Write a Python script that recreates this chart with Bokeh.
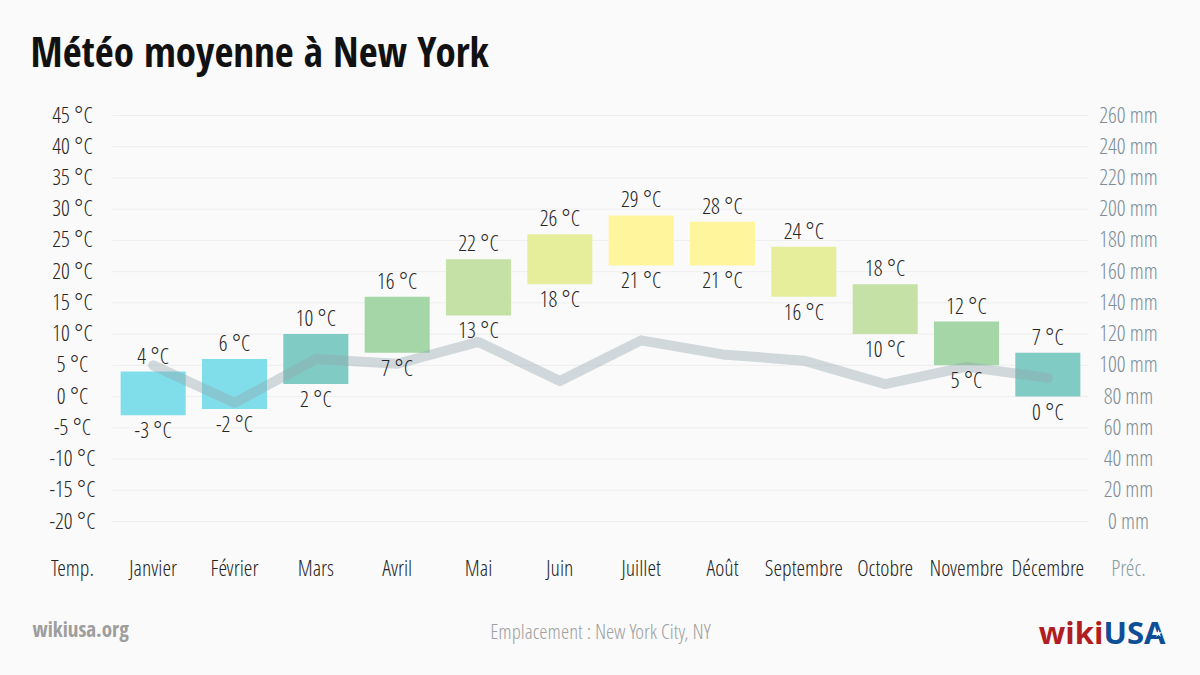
from bokeh.plotting import figure
from bokeh.models import Range1d
from bokeh.core.properties import value
from bokeh.embed import file_html
from bokeh.resources import INLINE

# ---------------- data ----------------
months = ["Janvier", "Février", "Mars", "Avril", "Mai", "Juin",
          "Juillet", "Août", "Septembre", "Octobre", "Novembre", "Décembre"]
temp_max = [4, 6, 10, 16, 22, 26, 29, 28, 24, 18, 12, 7]
temp_min = [-3, -2, 2, 7, 13, 18, 21, 21, 16, 10, 5, 0]
precip = [100, 76, 104, 101, 115, 90, 116, 107, 103, 88, 99, 92]
bar_colors = ["#80DEEA", "#80DEEA", "#80CBC4", "#A5D6A7", "#C5E1A5", "#E6EE9C",
              "#FFF59D", "#FFF59D", "#E6EE9C", "#C5E1A5", "#A5D6A7", "#80CBC4"]
temp_ticks = [-20, -15, -10, -5, 0, 5, 10, 15, 20, 25, 30, 35, 40, 45]
precip_ticks = [0, 20, 40, 60, 80, 100, 120, 140, 160, 180, 200, 220, 240, 260]
title = "Météo moyenne à New York"
left_caption = "Temp."
right_caption = "Préc."
footer_left = "wikiusa.org"
footer_center = "Emplacement : New York City, NY"

# ---------------- layout (reference pixel coordinates) ----------------
W, H = 1184, 659
OFF = 0
FL, FR = 112, 1088          # plot band left/right
FT, FB = 115, 521           # y of top / bottom tick
T_BOT, T_TOP = temp_ticks[0], temp_ticks[-1]
P_BOT, P_TOP = precip_ticks[0], precip_ticks[-1]
TXT_DY = -2                 # small vertical correction for text centring

n = len(months)
band = (FR - FL) / n
ppd = (FB - FT) / (T_TOP - T_BOT)


def X(px):
    return (px - FL) / band - 0.5


def Y(py):
    return T_BOT + (FB - py) / ppd


def to_p(t):
    return P_BOT + (t - T_BOT) * (P_TOP - P_BOT) / (T_TOP - T_BOT)


y0, y1 = Y(OFF + H), Y(OFF)
p = figure(width=W, height=H,
           x_range=Range1d(X(OFF), X(OFF + W)), y_range=Range1d(y0, y1),
           x_axis_type=None, y_axis_type=None, toolbar_location=None,
           output_backend="svg", min_border=0,
           background_fill_color="#fafafa", border_fill_color="#fafafa",
           outline_line_color=None)
p.extra_y_ranges = {"precip": Range1d(to_p(y0), to_p(y1))}

LIGHT = value("Open Sans Condensed Light")
BOLD = value("Open Sans Condensed")
DARK = "#262626"

idx = list(range(n))

# grid lines
p.segment(x0=[X(FL)] * len(temp_ticks), x1=[X(FR)] * len(temp_ticks),
          y0=temp_ticks, y1=temp_ticks, line_color="#eeeeee", line_width=1)

# temperature bars
p.vbar(x=idx, bottom=temp_min, top=temp_max, width=0.8,
       fill_color=bar_colors, line_color=None)

# precipitation line
p.line(x=idx, y=precip, y_range_name="precip", line_color="#90a4ae",
       line_alpha=0.4, line_width=10, line_cap="round", line_join="round")

# value labels
p.text(x=idx, y=temp_max, text=[f"{v} °C" for v in temp_max], y_offset=-15 + TXT_DY,
       text_align="center", text_baseline="middle", text_font=LIGHT,
       text_font_size="22px", text_color=DARK)
p.text(x=idx, y=temp_min, text=[f"{v} °C" for v in temp_min], y_offset=16 + TXT_DY,
       text_align="center", text_baseline="middle", text_font=LIGHT,
       text_font_size="22px", text_color=DARK)

# left tick labels
p.text(x=[X(72)] * len(temp_ticks), y=temp_ticks, text=[f"{t} °C" for t in temp_ticks],
       y_offset=TXT_DY, text_align="center", text_baseline="middle", text_font=LIGHT,
       text_font_size="22px", text_color=DARK)
# right tick labels
p.text(x=[X(1128)] * len(precip_ticks), y=precip_ticks, y_range_name="precip",
       text=[f"{v} mm" for v in precip_ticks], y_offset=TXT_DY,
       text_align="center", text_baseline="middle", text_font=LIGHT,
       text_font_size="22px", text_color="#7d8e98")

# month labels and captions
p.text(x=idx, y=[Y(568)] * n, text=months, y_offset=TXT_DY, text_align="center",
       text_baseline="middle", text_font=LIGHT, text_font_size="22px", text_color=DARK)
p.text(x=[X(72)], y=[Y(568)], text=[left_caption], y_offset=TXT_DY, text_align="center",
       text_baseline="middle", text_font=LIGHT, text_font_size="22px", text_color=DARK)
p.text(x=[X(1128)], y=[Y(568)], text=[right_caption], y_offset=TXT_DY, text_align="center",
       text_baseline="middle", text_font=LIGHT, text_font_size="22px", text_color="#8a9aa3")

# title
p.text(x=[X(30)], y=[Y(50)], text=[title], text_align="left", text_baseline="middle",
       text_font=BOLD, text_font_style="bold", text_font_size="41px", text_color="#111111")

# footer
p.text(x=[X(32)], y=[Y(630)], text=[footer_left], y_offset=TXT_DY, text_align="left",
       text_baseline="middle", text_font=BOLD, text_font_style="bold",
       text_font_size="21px", text_color="#9e9e9e")
p.text(x=[X(600)], y=[Y(632)], text=[footer_center], y_offset=TXT_DY, text_align="center",
       text_baseline="middle", text_font=LIGHT, text_font_size="21px", text_color="#a0a0a0")
p.text(x=[X(1103)], y=[Y(631)], text=["wiki"], text_align="right", text_baseline="middle",
       text_font=value("Open Sans"), text_font_style="bold", text_font_size="31px", text_color="#B01E23")
p.text(x=[X(1103)], y=[Y(631)], text=["USA"], text_align="left", text_baseline="middle",
       text_font=value("Open Sans"), text_font_style="bold", text_font_size="31px", text_color="#0D4E96")
p.scatter(x=[X(1158)], y=[Y(633)], marker="star", size=8, fill_color="white", line_color=None)

html = file_html(p, INLINE)
html = html.replace("</head>", "<style>html,body{background:#fafafa;}</style></head>")
open("out.html", "w").write(html)
